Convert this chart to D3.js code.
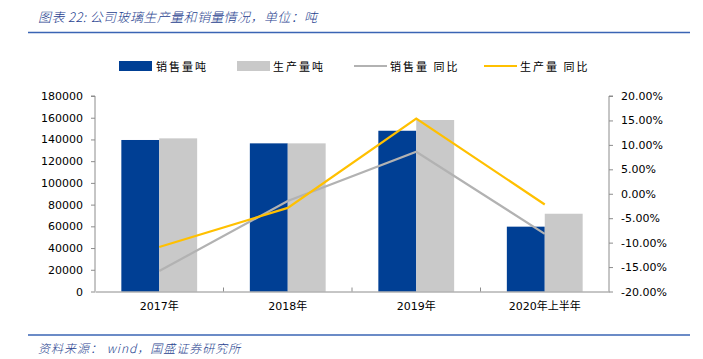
<!DOCTYPE html>
<html><head><meta charset="utf-8">
<script src="https://cdn.jsdelivr.net/npm/d3@7"></script>
<style>
body{margin:0;background:#fff;}
svg{display:block;}
</style></head>
<body>
<svg id="chart" width="703" height="359"></svg>
<script>
const categories = ["2017年","2018年","2019年","2020年上半年"];
const salesTon = [139500, 136400, 148000, 59700];
const prodTon = [141000, 136400, 157900, 71600];
const salesYoY = [-15.8, -1.5, 8.6, -8.2];
const prodYoY = [-10.9, -2.9, 15.4, -2.2];
const leftTicks = [0,20000,40000,60000,80000,100000,120000,140000,160000,180000];
const rightTicks = [-20,-15,-10,-5,0,5,10,15,20];
const seriesNames = ["销售量吨","生产量吨","销售量 同比","生产量 同比"];
const titleText = "图表 22:  公司玻璃生产量和销量情况，单位：吨";
const sourceText = "资料来源：   wind，国盛证券研究所";

const svg = d3.select("#chart");
const m = {l:95, r:609, t:96, b:291.5};
const fontNum = "DejaVu Sans, Verdana, sans-serif";
const fontCJK = "'Noto Sans CJK SC', sans-serif";
const axisCol = "#8c8c8c";
const blue = "#003f94", grayBar = "#c9c9c9", grayLine = "#b2b2b2", yellow = "#ffc000";
const titleBlue = "#1f3f8f";

// title & footer
svg.append("text").attr("x",38).attr("y",22).attr("font-family",fontCJK).attr("font-size",13)
  .attr("font-style","italic").attr("font-weight",300).attr("letter-spacing",0.4).attr("fill",titleBlue).text(titleText);
svg.append("line").attr("x1",28).attr("x2",690).attr("y1",32.5).attr("y2",32.5).attr("stroke","#3a64b4").attr("stroke-width",1.5);
svg.append("line").attr("x1",28).attr("x2",690).attr("y1",335).attr("y2",335).attr("stroke","#3a64b4").attr("stroke-width",1.5);
svg.append("text").attr("x",38).attr("y",353).attr("font-family",fontCJK).attr("font-size",12)
  .attr("font-style","italic").attr("font-weight",300).attr("letter-spacing",1).attr("fill",titleBlue).text(sourceText);

const x = d3.scaleBand().domain(categories).range([m.l,m.r]).paddingInner(0.41).paddingOuter(0.205);
const xs = d3.scaleBand().domain([0,1]).range([0,x.bandwidth()]);
const yL = d3.scaleLinear().domain([0,180000]).range([m.b,m.t]);
const yR = d3.scaleLinear().domain([-20,20]).range([m.b,m.t]);

// bars
const barSeries = [salesTon, prodTon];
const barCols = [blue, grayBar];
barSeries.forEach((vals,si)=>{
  svg.append("g").selectAll("rect").data(vals).join("rect")
    .attr("x",(d,i)=>x(categories[i])+xs(si))
    .attr("y",d=>yL(d))
    .attr("width",xs.bandwidth())
    .attr("height",d=>m.b-yL(d))
    .attr("fill",barCols[si]);
});

// axes
const axL = d3.axisLeft(yL).tickValues(leftTicks).tickSize(4).tickPadding(8).tickFormat(d=>String(d));
const gL = svg.append("g").attr("transform",`translate(${m.l},0)`).call(axL);
const axR = d3.axisRight(yR).tickValues(rightTicks).tickSize(4).tickPadding(8).tickFormat(d=>d.toFixed(2)+"%");
const gR = svg.append("g").attr("transform",`translate(${m.r},0)`).call(axR);
const axB = d3.axisBottom(x).tickSize(0).tickPadding(11);
const gB = svg.append("g").attr("transform",`translate(0,${m.b})`).call(axB);
[gL,gR,gB].forEach(g=>{
  g.select(".domain").attr("stroke",axisCol);
  g.selectAll(".tick line").attr("stroke",axisCol);
  g.selectAll("text").attr("font-family",fontNum).attr("font-size",11).attr("fill","#000");
});
gL.select(".domain").attr("d",`M-4,${m.t}H0V${m.b}`);
gR.select(".domain").attr("d",`M4,${m.t}H0V${m.b}`);
gB.selectAll("text").attr("font-family",fontNum+", "+fontCJK);
// category separator ticks
svg.append("g").selectAll("line").data(categories.slice(1)).join("line")
  .attr("x1",d=>x(d)-x.step()*x.paddingInner()/2).attr("x2",d=>x(d)-x.step()*x.paddingInner()/2)
  .attr("y1",m.b).attr("y2",m.b-4).attr("stroke",axisCol);

// lines
const line = d3.line().x((d,i)=>x(categories[i])+x.bandwidth()/2).y(d=>yR(d));
svg.append("path").datum(salesYoY).attr("d",line).attr("fill","none").attr("stroke",grayLine).attr("stroke-width",2.2);
svg.append("path").datum(prodYoY).attr("d",line).attr("fill","none").attr("stroke",yellow).attr("stroke-width",2.2);

// legend
const leg = svg.append("g");
const legItems = [
  {type:"rect", col:blue, x:119, tx:156},
  {type:"rect", col:grayBar, x:237, tx:273},
  {type:"line", col:grayLine, x:354, tx:390},
  {type:"line", col:yellow, x:484, tx:520}
];
legItems.forEach((it,i)=>{
  if(it.type==="rect") leg.append("rect").attr("x",it.x).attr("y",61).attr("width",33).attr("height",10).attr("fill",it.col);
  else leg.append("line").attr("x1",it.x).attr("x2",it.x+33).attr("y1",66).attr("y2",66).attr("stroke",it.col).attr("stroke-width",2);
  leg.append("text").attr("x",it.tx).attr("y",70.5).attr("font-family",fontCJK).attr("font-size",11)
    .attr("letter-spacing",2).attr("fill","#000").text(seriesNames[i]);
});
</script>
</body></html>
